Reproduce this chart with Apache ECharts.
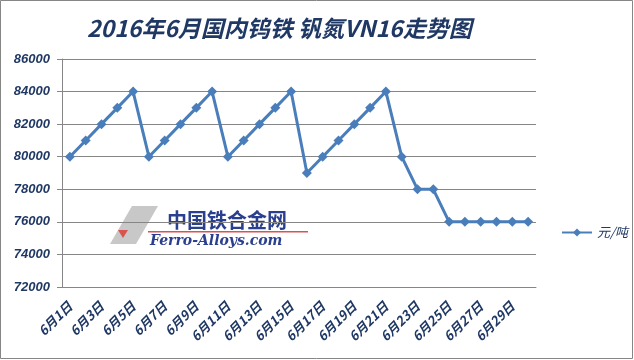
<!DOCTYPE html>
<html><head><meta charset="utf-8">
<script src="https://cdn.jsdelivr.net/npm/echarts@6/dist/echarts.min.js"></script>
<style>html,body{margin:0;padding:0;background:#fff}#c{width:634px;height:360px}</style>
</head><body><div id="c"></div>
<script>
const categories = [];
for (let d = 1; d <= 30; d++) categories.push('6月' + d + '日');
const seriesName = '元/吨';
const values = [80000,81000,82000,83000,84000,80000,81000,82000,83000,84000,
  80000,81000,82000,83000,84000,79000,80000,81000,82000,83000,
  84000,80000,78000,78000,76000,76000,76000,76000,76000,76000];
const yMin = 72000, yMax = 86000, yStep = 2000;

const chart = echarts.init(document.getElementById('c'));
const dark = '#1F3864';
chart.setOption({
  animation: false,
  title: {
    text: '2016年6月国内钨铁 钒氮VN16走势图',
    left: 82, top: 12,
    textStyle: {fontFamily: 'Noto Sans CJK SC', fontSize: 23, fontWeight: 'bold', fontStyle: 'italic', color: dark}
  },
  legend: {
    left: 556, top: 221, itemWidth: 30, itemHeight: 10, itemGap: 4,
    textStyle: {fontFamily: 'Noto Sans CJK SC', fontSize: 13, fontStyle: 'italic', color: dark},
    data: [seriesName]
  },
  grid: {left: 62, right: 98, top: 59, bottom: 73},
  xAxis: {
    type: 'category', data: categories, boundaryGap: true,
    axisLine: {lineStyle: {color: '#868686', width: 1}},
    axisTick: {interval: 1, length: 5, lineStyle: {color: '#868686'}},
    axisLabel: {interval: 1, rotate: 45, margin: 17, fontFamily: 'Noto Sans CJK SC', fontSize: 13, fontWeight: 'bold', fontStyle: 'italic', color: dark}
  },
  yAxis: {
    type: 'value', min: yMin, max: yMax, interval: yStep,
    axisLine: {show: true, lineStyle: {color: '#868686'}},
    axisTick: {show: true, length: 5, lineStyle: {color: '#868686'}},
    splitLine: {lineStyle: {color: '#868686', width: 1}},
    axisLabel: {margin: 12, formatter: v => String(v), fontFamily: 'Liberation Sans', fontSize: 13, fontWeight: 'bold', fontStyle: 'italic', color: dark}
  },
  graphic: [
    {type: 'rect', shape: {x: 0.5, y: 0.5, width: 632, height: 358}, style: {fill: 'none', stroke: '#868686', lineWidth: 1}, z: -1},
    {type: 'polygon', shape: {points: [[110,244],[132,206],[158,206],[136,244]]}, style: {fill: '#c8c8c8'}, z: -1},
    {type: 'polygon', shape: {points: [[118,230],[128,230],[123,238]]}, style: {fill: '#d9534f'}, z: -1},
    {type: 'text', left: 167, top: 210, style: {text: '中国铁合金网', fontFamily: 'Noto Sans CJK SC', fontSize: 20, fontWeight: 'bold', fill: '#2b3f8f'}, z: -1},
    {type: 'rect', shape: {x: 148, y: 231, width: 160, height: 1.5}, style: {fill: '#d9534f'}, z: -1},
    {type: 'text', left: 150, top: 234, style: {text: 'Ferro-Alloys.com', fontFamily: 'DejaVu Serif', fontSize: 14, fontWeight: 'bold', fontStyle: 'italic', fill: '#2b3f8f'}, z: -1}
  ],
  series: [{
    name: seriesName, type: 'line', data: values,
    symbol: 'diamond', symbolSize: 10,
    lineStyle: {color: '#4A7EBB', width: 3},
    itemStyle: {color: '#4A7EBB'}
  }]
});
</script></body></html>
